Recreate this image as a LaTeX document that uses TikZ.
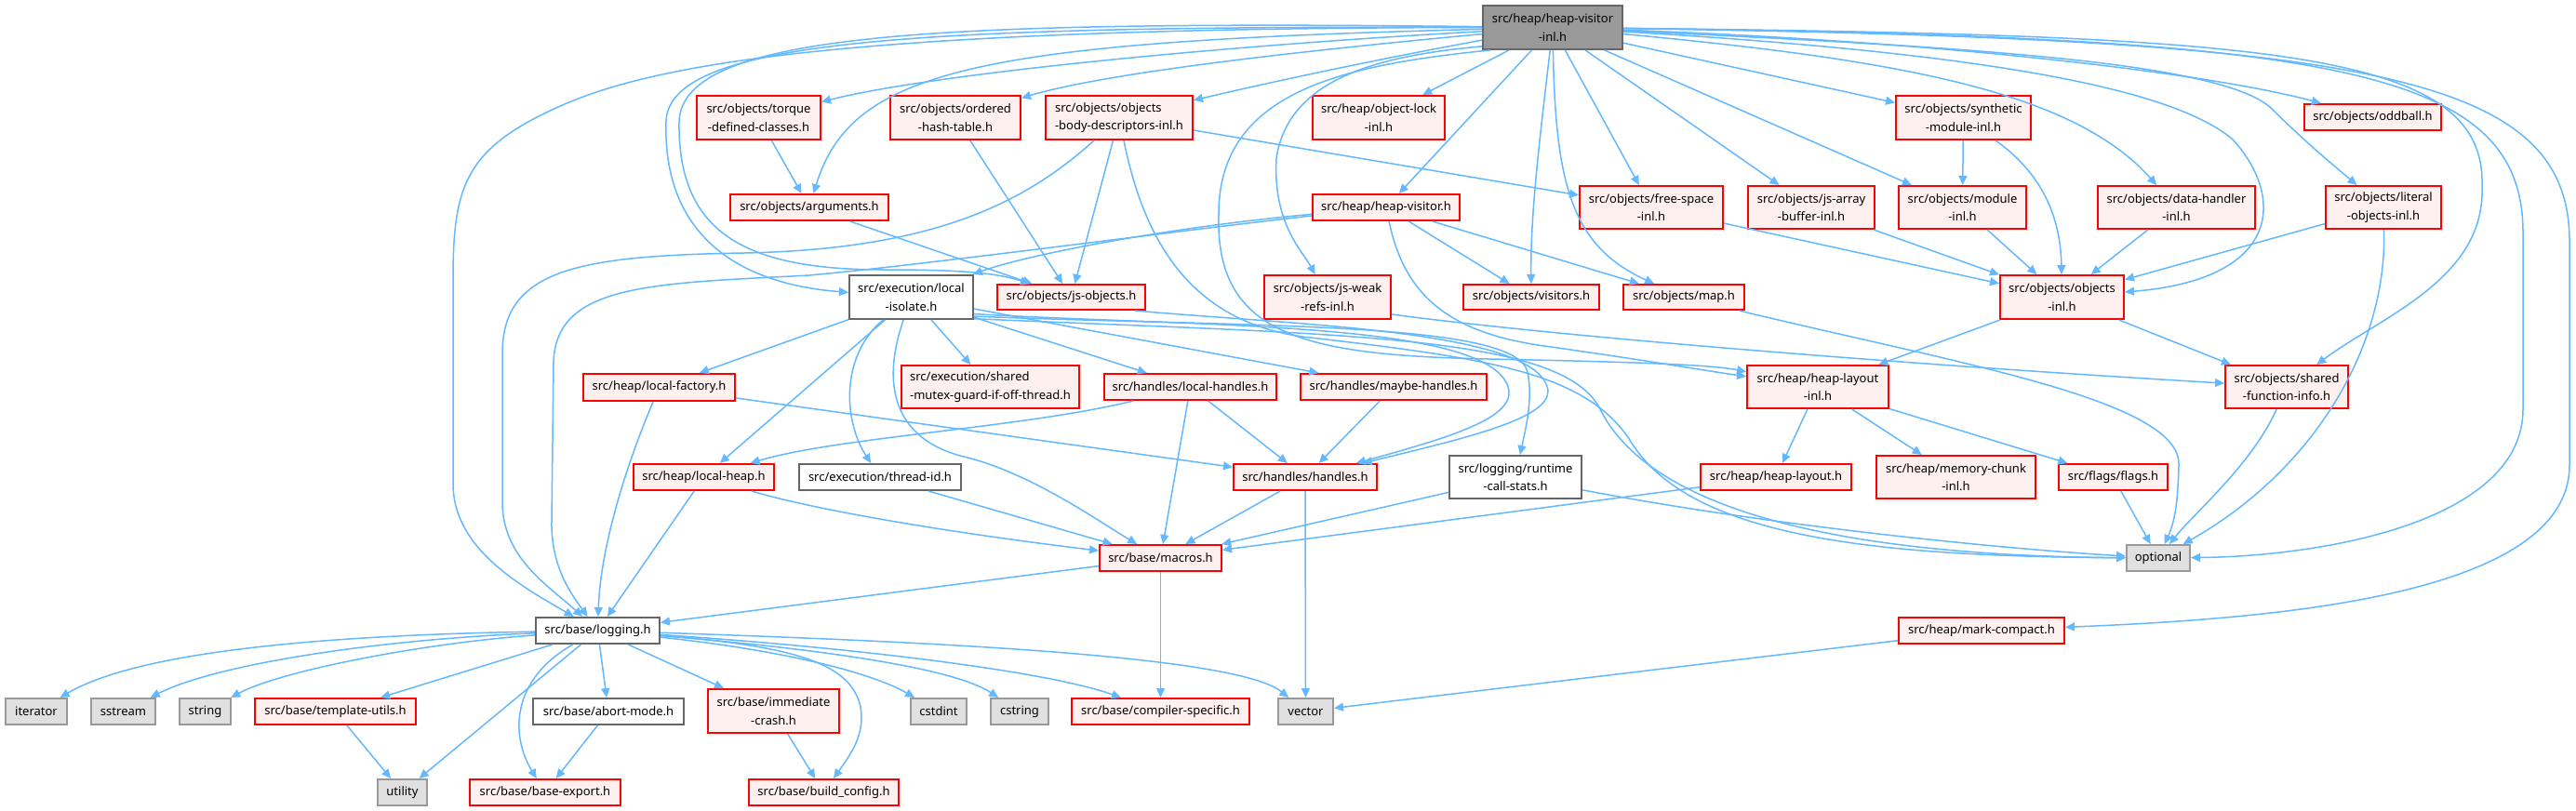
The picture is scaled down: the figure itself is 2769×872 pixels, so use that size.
\documentclass[tikz,border=0pt]{standalone}
\usepackage{fontspec}
\setmainfont{Noto Sans}
\usetikzlibrary{arrows.meta}
\definecolor{eb}{HTML}{63B8FF}
\definecolor{rfill}{HTML}{FFF0F0}
\definecolor{rline}{HTML}{FF0000}
\definecolor{gfill}{HTML}{E0E0E0}
\definecolor{gline}{HTML}{999999}
\definecolor{dline}{HTML}{666666}
\tikzset{
 box/.style={rectangle, line width=1pt, inner sep=0pt, align=center, font=\fontsize{6.5}{9.7}\selectfont},
 rnode/.style={box, draw=rline, fill=rfill},
 wnode/.style={box, draw=dline, fill=white},
 gnode/.style={box, draw=gline, fill=gfill},
 rootnode/.style={box, draw=dline, fill=gline},
 dep/.style={draw=eb, line width=0.75pt, -{Triangle[length=5pt,width=4.5pt]}},
}
\newcommand\mkn[7]{\node[#2,minimum width={(#5-#3-2)*0.5pt},minimum height={(#6-#4-2)*0.5pt}] (#1) at ({(#3+#5)/2},{(#4+#6)/2}) {#7};}
\begin{document}
\begin{tikzpicture}[x=0.5pt,y=-0.5pt]
\useasboundingbox[fill=white] (0,0) rectangle (2769,872);
% nodes
\mkn{R}{rootnode}{1593}{5}{1745}{54}{src/heap/heap-visitor\\-inl.h}
\mkn{torque}{rnode}{748}{102}{883}{151}{src/objects/torque\\-defined-classes.h}
\mkn{ordered}{rnode}{956}{102}{1098}{151}{src/objects/ordered\\-hash-table.h}
\mkn{obd}{rnode,align=left}{1123}{102}{1283}{151}{src/objects/objects\\-body-descriptors-inl.h}
\mkn{objlock}{rnode}{1410}{102}{1554}{151}{src/heap/object-lock\\-inl.h}
\mkn{synth}{rnode}{2037}{102}{2184}{151}{src/objects/synthetic\\-module-inl.h}
\mkn{oddball}{rnode}{2476}{111}{2625}{141}{src/objects/oddball.h}
\mkn{args}{rnode}{784}{208}{956}{238}{src/objects/arguments.h}
\mkn{hv}{rnode}{1410}{208}{1570}{238}{src/heap/heap-visitor.h}
\mkn{freesp}{rnode}{1697}{199}{1853}{247}{src/objects/free-space\\-inl.h}
\mkn{jsab}{rnode}{1878}{199}{2016}{247}{src/objects/js-array\\-buffer-inl.h}
\mkn{modinl}{rnode}{2040}{199}{2179}{247}{src/objects/module\\-inl.h}
\mkn{datah}{rnode}{2254}{199}{2425}{247}{src/objects/data-handler\\-inl.h}
\mkn{literal}{rnode}{2499}{199}{2625}{247}{src/objects/literal\\-objects-inl.h}
\mkn{lisol}{wnode}{912}{295}{1047}{344}{src/execution/local\\-isolate.h}
\mkn{jsobj}{rnode}{1071}{305}{1232}{334}{src/objects/js-objects.h}
\mkn{jsweak}{rnode}{1358}{295}{1496}{344}{src/objects/js-weak\\-refs-inl.h}
\mkn{visitors}{rnode}{1572}{305}{1720}{334}{src/objects/visitors.h}
\mkn{map}{rnode}{1744}{305}{1876}{334}{src/objects/map.h}
\mkn{objinl}{rnode}{2149}{295}{2284}{344}{src/objects/objects\\-inl.h}
\mkn{lfact}{rnode}{626}{401}{791}{432}{src/heap/local-factory.h}
\mkn{mutex}{rnode,align=left}{968}{392}{1161}{440}{src/execution/shared\\-mutex-guard-if-off-thread.h}
\mkn{lhand}{rnode}{1186}{401}{1373}{431}{src/handles/local-handles.h}
\mkn{mhand}{rnode}{1397}{401}{1599}{431}{src/handles/maybe-handles.h}
\mkn{hlinl}{rnode}{1877}{392}{2031}{440}{src/heap/heap-layout\\-inl.h}
\mkn{sfi}{rnode}{2391}{392}{2525}{440}{src/objects/shared\\-function-info.h}
\mkn{lheap}{rnode}{680}{498}{833}{528}{src/heap/local-heap.h}
\mkn{tid}{wnode}{858}{498}{1034}{528}{src/execution/thread-id.h}
\mkn{handles}{rnode}{1325}{498}{1481}{528}{src/handles/handles.h}
\mkn{rcs}{wnode}{1557}{489}{1701}{537}{src/logging/runtime\\-call-stats.h}
\mkn{hlayout}{rnode}{1827}{498}{1991}{528}{src/heap/heap-layout.h}
\mkn{mchunk}{rnode}{2016}{489}{2189}{537}{src/heap/memory-chunk\\-inl.h}
\mkn{flags}{rnode}{2212}{498}{2331}{528}{src/flags/flags.h}
\mkn{macros}{rnode}{1181}{585}{1314}{615}{src/base/macros.h}
\mkn{optional}{gnode}{2285}{585}{2355}{615}{optional}
\mkn{logging}{wnode}{575}{663}{710}{693}{src/base/logging.h}
\mkn{mcompact}{rnode}{2040}{663}{2220}{693}{src/heap/mark-compact.h}
\mkn{iterator}{gnode}{5}{750}{73}{780}{iterator}
\mkn{sstream}{gnode}{97}{750}{168}{780}{sstream}
\mkn{string}{gnode}{192}{750}{249}{780}{string}
\mkn{tutils}{rnode}{273}{750}{448}{780}{src/base/template-utils.h}
\mkn{abort}{wnode}{572}{750}{736}{780}{src/base/abort-mode.h}
\mkn{imm}{rnode}{760}{740}{903}{789}{src/base/immediate\\-crash.h}
\mkn{cstdint}{gnode}{978}{750}{1040}{780}{cstdint}
\mkn{cstring}{gnode}{1064}{750}{1128}{780}{cstring}
\mkn{compspec}{rnode}{1151}{750}{1344}{780}{src/base/compiler-specific.h}
\mkn{vector}{gnode}{1373}{750}{1434}{780}{vector}
\mkn{utility}{gnode}{405}{837}{460}{867}{utility}
\mkn{bexport}{rnode}{504}{837}{668}{867}{src/base/base-export.h}
\mkn{bconfig}{rnode}{804}{837}{967}{867}{src/base/build\_config.h}
% root edges
\draw[dep] (R) .. controls (1300,50) and (1000,80) .. (torque);
\draw[dep] (R) .. controls (1450,50) and (1200,75) .. (ordered);
\draw[dep] (R) .. controls (1500,60) and (1380,85) .. (obd);
\draw[dep] (R) .. controls (1050,45) and (915,75) .. (args);
\draw[dep] (R) .. controls (1000,28) and (720,40) .. (716,130) .. controls (712,250) and (790,305) .. (lisol);
\draw[dep] (R) .. controls (1000,22) and (735,35) .. (730,130) .. controls (728,250) and (800,290) .. (950,290) .. controls (1030,290) and (1070,293) .. (jsobj);
\draw[dep] (R) .. controls (900,30) and (700,70) .. (600,115) .. controls (500,160) and (487,200) .. (487,300) -- (487,520) .. controls (487,590) and (560,630) .. (logging);
\draw[dep] (R.195) .. controls (1480,60) and (1385,85) .. (1372,170) .. controls (1368,240) and (1400,270) .. (jsweak);
\draw[dep] (R.200) .. controls (1440,70) and (1310,100) .. (1310,230) .. controls (1306,360) and (1400,382) .. (1600,386) .. controls (1750,389) and (1840,392) .. (hlinl);
\draw[dep] (R) -- (objlock);
\draw[dep] (R) -- (hv);
\draw[dep] (R) .. controls (1655,150) and (1645,230) .. (visitors);
\draw[dep] (R) .. controls (1672,200) and (1690,265) .. (map);
\draw[dep] (R) -- (freesp);
\draw[dep] (R) -- (jsab);
\draw[dep] (R) -- (modinl);
\draw[dep] (R) -- (synth);
\draw[dep] (R) .. controls (2050,65) and (2230,100) .. (datah);
\draw[dep] (R) .. controls (2100,45) and (2380,80) .. (oddball);
\draw[dep] (R) .. controls (2100,50) and (2380,65) .. (2440,115) .. controls (2475,150) and (2505,175) .. (literal);
\draw[dep] (R) .. controls (2100,55) and (2330,90) .. (2400,150) .. controls (2455,210) and (2455,300) .. (objinl);
\draw[dep] (R) .. controls (2450,38) and (2672,55) .. (2668,200) .. controls (2672,300) and (2560,340) .. (sfi);
\draw[dep] (R) .. controls (2500,40) and (2712,70) .. (2712,250) -- (2712,440) .. controls (2712,560) and (2500,598) .. (optional);
\draw[dep] (R) .. controls (2550,42) and (2762,80) .. (2762,260) -- (2762,500) .. controls (2762,640) and (2450,665) .. (mcompact);
% upper level
\draw[dep] (torque) -- (args);
\draw[dep] (args) -- (jsobj);
\draw[dep] (ordered) -- (jsobj);
\draw[dep] (obd) -- (jsobj);
\draw[dep] (obd) -- (freesp);
\draw[dep] (obd) .. controls (1100,220) and (1000,268) .. (800,272) .. controls (620,275) and (540,290) .. (540,380) -- (540,540) .. controls (540,600) and (590,630) .. (logging);
\draw[dep] (obd) .. controls (1230,260) and (1280,345) .. (1400,362) .. controls (1600,385) and (1700,400) .. (1750,470) .. controls (1810,575) and (2000,598) .. (optional);
\draw[dep] (hv) .. controls (1250,245) and (1100,275) .. (lisol);
\draw[dep] (hv) .. controls (1250,250) and (1000,284) .. (870,296) .. controls (700,305) and (597,305) .. (595,390) -- (593,560) .. controls (592,610) and (615,640) .. (logging);
\draw[dep] (hv) -- (visitors);
\draw[dep] (hv) -- (map);
\draw[dep] (hv) .. controls (1510,320) and (1560,358) .. (1660,372) .. controls (1760,386) and (1830,398) .. (hlinl);
\draw[dep] (jsweak.-15) .. controls (1700,365) and (2100,395) .. (sfi);
\draw[dep] (synth) -- (modinl);
\draw[dep] (synth) .. controls (2200,190) and (2215,240) .. (objinl);
\draw[dep] (modinl) -- (objinl);
\draw[dep] (jsab) -- (objinl);
\draw[dep] (freesp) -- (objinl);
\draw[dep] (datah) -- (objinl);
\draw[dep] (literal) -- (objinl);
\draw[dep] (literal) .. controls (2566,380) and (2480,510) .. (optional);
\draw[dep] (sfi) .. controls (2420,500) and (2360,550) .. (optional);
\draw[dep] (map) .. controls (2100,390) and (2345,430) .. (2342,500) .. controls (2341,540) and (2338,560) .. (optional);
\draw[dep] (flags) -- (optional);
\draw[dep] (objinl) -- (hlinl);
\draw[dep] (objinl) -- (sfi);
\draw[dep] (hlinl) -- (hlayout);
\draw[dep] (hlinl) -- (mchunk);
\draw[dep] (hlinl) -- (flags);
\draw[dep] (hlayout) -- (macros);
% local-isolate
\draw[dep] (lisol) -- (lhand);
\draw[dep] (lisol) -- (mhand);
\draw[dep] (lisol) -- (mutex);
\draw[dep] (lisol) -- (lfact);
\draw[dep] (lisol) -- (lheap);
\draw[dep] (lisol) .. controls (905,380) and (905,450) .. (tid);
\draw[dep] (lisol) .. controls (945,420) and (965,475) .. (1040,492) .. controls (1110,510) and (1180,560) .. (macros);
\draw[dep] (lisol.-15) .. controls (1300,352) and (1610,345) .. (1622,420) .. controls (1625,450) and (1560,470) .. (handles);
\draw[dep] (jsobj.-12) .. controls (1400,350) and (1655,355) .. (1664,420) .. controls (1665,450) and (1580,470) .. (handles);
\draw[dep] (lisol.-17) .. controls (1350,352) and (1630,345) .. (1642,400) .. controls (1648,430) and (1640,460) .. (rcs);
\draw[dep] (lisol.-19) .. controls (1450,360) and (1680,360) .. (1720,440) .. controls (1770,540) and (1950,597) .. (optional);
\draw[dep] (rcs) -- (macros);
\draw[dep] (rcs) .. controls (1900,565) and (2150,590) .. (optional);
% middle
\draw[dep] (lfact) .. controls (665,520) and (645,600) .. (logging);
\draw[dep] (lfact) -- (handles);
\draw[dep] (lheap) -- (logging);
\draw[dep] (lheap) .. controls (900,555) and (1080,580) .. (macros);
\draw[dep] (lhand) .. controls (1100,460) and (900,470) .. (lheap);
\draw[dep] (lhand) -- (macros);
\draw[dep] (lhand) -- (handles);
\draw[dep] (mhand) -- (handles);
\draw[dep] (handles) -- (macros);
\draw[dep] (handles) -- (vector);
\draw[dep] (tid) -- (macros);
\draw[dep] (macros) -- (logging);
\draw[dep] (macros) -- (compspec);
\draw[dep] (mcompact) -- (vector);
% logging fan-out
\draw[dep] (logging) .. controls (350,683) and (150,700) .. (iterator);
\draw[dep] (logging) .. controls (400,688) and (230,715) .. (sstream);
\draw[dep] (logging) .. controls (450,692) and (300,722) .. (string);
\draw[dep] (logging) -- (tutils);
\draw[dep] (logging) -- (utility);
\draw[dep] (logging) .. controls (550,730) and (548,790) .. (bexport);
\draw[dep] (logging) -- (abort);
\draw[dep] (logging) -- (imm);
\draw[dep] (logging) .. controls (860,695) and (915,715) .. (925,760) .. controls (930,790) and (915,810) .. (bconfig);
\draw[dep] (logging) .. controls (850,700) and (940,725) .. (cstdint);
\draw[dep] (logging) .. controls (850,695) and (1020,715) .. (cstring);
\draw[dep] (logging) .. controls (900,695) and (1120,720) .. (compspec);
\draw[dep] (logging) .. controls (1000,690) and (1330,705) .. (vector);
\draw[dep] (tutils) -- (utility);
\draw[dep] (abort) -- (bexport);
\draw[dep] (imm) -- (bconfig);
\end{tikzpicture}
\end{document}
